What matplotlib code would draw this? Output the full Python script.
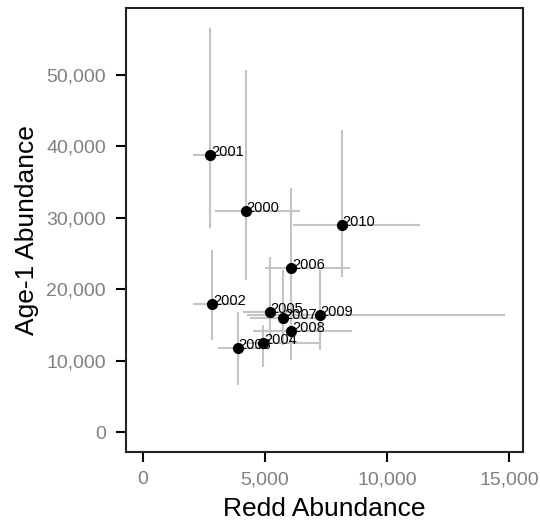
import numpy as np
import matplotlib.pyplot as plt
from matplotlib.ticker import FuncFormatter

plt.rcParams['font.family'] = ['Liberation Sans', 'DejaVu Sans']

# values
years = ['2000', '2001', '2002', '2003', '2004', '2005', '2006', '2007', '2008', '2009', '2010']
redd = np.array([4220, 2750, 2830, 3890, 4920, 5200, 6070, 5740, 6070, 7250, 8150])
redd_lo = np.array([2950, 2050, 2050, 3070, 4180, 4100, 5000, 4390, 4510, 4260, 6150])
redd_hi = np.array([6430, 4060, 3980, 5080, 7250, 6430, 8480, 7250, 8570, 14840, 11350])
age1 = np.array([30940, 38780, 17920, 11760, 12460, 16800, 22960, 15960, 14140, 16380, 28980])
age1_lo = np.array([21280, 28560, 12880, 6580, 9100, 13300, 17780, 12180, 10080, 11480, 21700])
age1_hi = np.array([50680, 56560, 25480, 16800, 14980, 24500, 34160, 22680, 18480, 22680, 42280])

fig = plt.figure(figsize=(5.4, 5.23), dpi=100)
ax = fig.add_axes([125.5 / 540, 71 / 523, 397.5 / 540, 444 / 523])

xerr = [redd - redd_lo, redd_hi - redd]
yerr = [age1 - age1_lo, age1_hi - age1]
ax.errorbar(redd, age1, xerr=xerr, yerr=yerr, fmt='none', ecolor='#c4c4c4',
            elinewidth=1.5, capsize=0, zorder=1)
ax.scatter(redd, age1, s=65, color='black', zorder=3, linewidths=0)

for yr, x, y in zip(years, redd, age1):
    ax.annotate(yr, (x, y), xytext=(0.5, -0.5), textcoords='offset points',
                fontsize=10.5, color='black', zorder=2)

ax.set_xlim(-720, 15570)
ax.set_ylim(-2800, 59380)
ax.set_xticks([0, 5000, 10000, 15000])
ax.set_yticks([0, 10000, 20000, 30000, 40000, 50000])
fmt = FuncFormatter(lambda v, p: f'{int(v):,}')
ax.xaxis.set_major_formatter(fmt)
ax.yaxis.set_major_formatter(fmt)
ax.tick_params(axis='both', direction='out', length=7.5, width=1.5, color='black',
               labelcolor='#808080', labelsize=14, pad=6.5)

for s in ax.spines.values():
    s.set_linewidth(1.5)
    s.set_color('#222222')

ax.set_xlabel('Redd Abundance', fontsize=19, labelpad=6)
ax.set_ylabel('Age-1 Abundance', fontsize=19, labelpad=5)

fig.savefig('out.png', dpi=100)
